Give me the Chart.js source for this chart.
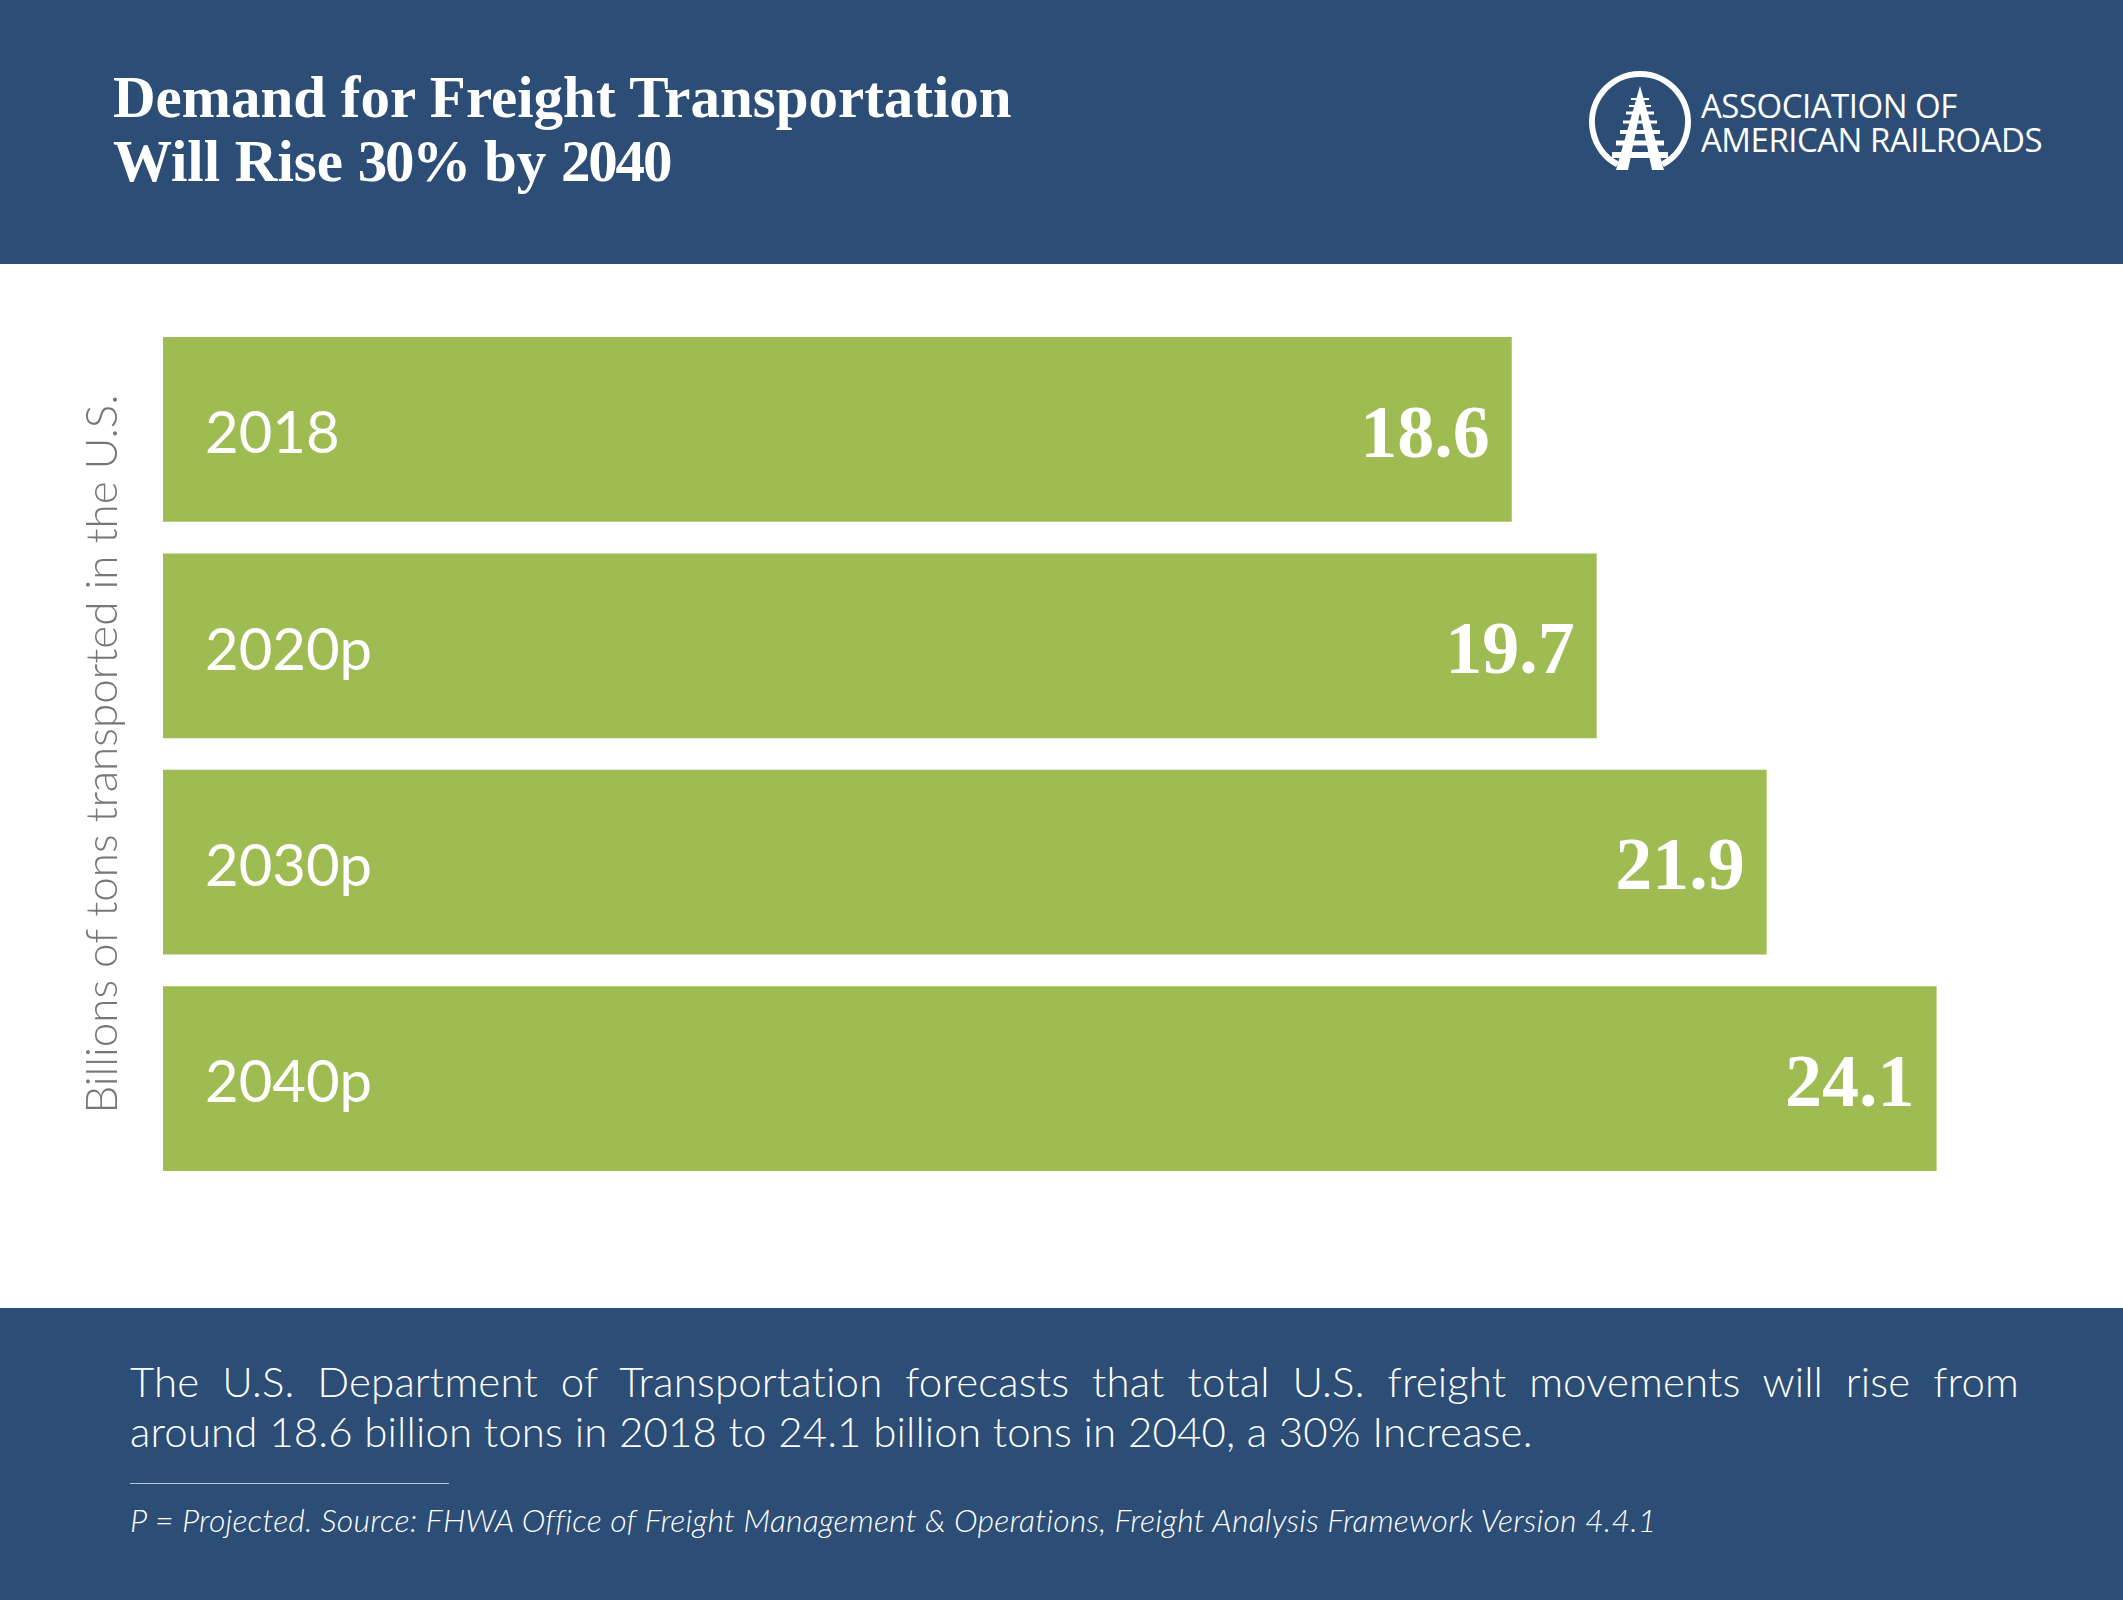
<!DOCTYPE html>
<html>
<head>
<meta charset="utf-8">
<title>Demand for Freight Transportation</title>
<script src="https://cdn.jsdelivr.net/npm/chart.js@4"></script>
<style>
  html, body { margin: 0; padding: 0; background: #fff; }
  #page { position: relative; width: 2123px; height: 1600px; overflow: hidden; font-family: Lato, sans-serif; }
  .band { position: absolute; left: 0; width: 2123px; background: #2c4d75; }
  #header { top: 0; height: 264px; }
  #footer { top: 1308px; height: 292px; }
  #title { position: absolute; left: 113px; top: 65px; color: #fff; font: bold 59px/64px "Liberation Serif", serif; white-space: nowrap; }
  #title .num { letter-spacing: -2.2px; }
  #logoText { position: absolute; left: 1701px; top: 89px; color: #fff; font: 33px/34px "Open Sans", sans-serif; letter-spacing: -0.5px; white-space: nowrap; }
  #note { position: absolute; left: 130px; top: 1356px; width: 1889px; color: #fff; font: 300 42px/50px Lato, sans-serif; letter-spacing: 0.15px; }
  #note .first { text-align: justify; text-align-last: justify; }
  #rule { position: absolute; left: 130px; top: 1483px; width: 319px; height: 1px; background: #b9c6d6; }
  #source { position: absolute; left: 130px; top: 1500px; color: #fff; font: italic 300 32px/40px Lato, sans-serif; letter-spacing: 0.2px; white-space: nowrap; }
  #logo { position: absolute; left: 0; top: 2px; }
  #chartBox { position: absolute; left: 0; top: 264px; }
</style>
</head>
<body>
<div id="page">
  <div id="header" class="band"></div>
  <div id="footer" class="band"></div>
  <div id="title">Demand for Freight Transportation<br>Will Rise <span class="num">30%</span> by <span class="num">2040</span></div>
  <svg id="logo" width="2123" height="262" fill="none" stroke="#fff">
    <path d="M1617.5 162.4 A48 48 0 1 1 1662.5 162.4" stroke-width="6"/>
    <path d="M1640 84 L1616 168 L1628 168 L1640 110 L1652 168 L1664 168 Z" fill="#fff" stroke="none"/>
    <path d="M1612 153 H1668" stroke-width="6"/>
    <path d="M1616 141 H1664" stroke-width="5"/>
    <path d="M1620 130 H1660" stroke-width="4"/>
    <path d="M1623 120 H1657" stroke-width="3"/>
    <path d="M1626 111 H1654" stroke-width="3"/>
    <path d="M1629 104 H1651" stroke-width="2"/>
    <path d="M1631 97 H1649" stroke-width="2"/>
  </svg>
  <div id="logoText">ASSOCIATION OF<br>AMERICAN RAILROADS</div>
  <div id="chartBox"><canvas id="freightChart" width="2123" height="1044"></canvas></div>
  <div id="note">
    <div class="first">The U.S. Department of Transportation forecasts that total U.S. freight movements will rise from</div>
    <div>around 18.6 billion tons in 2018 to 24.1 billion tons in 2040, a 30% Increase.</div>
  </div>
  <div id="rule"></div>
  <div id="source">P = Projected. Source: FHWA Office of Freight Management &amp; Operations, Freight Analysis Framework Version 4.4.1</div>
</div>
<script>
// Chart data
const years = ['2018', '2020p', '2030p', '2040p'];
const billionTons = [18.6, 19.7, 21.9, 24.1];

// Value labels at the end of each bar
const valueLabels = {
  id: 'valueLabels',
  afterDatasetsDraw(chart) {
    const ctx = chart.ctx;
    const bars = chart.getDatasetMeta(0).data;
    ctx.save();
    ctx.fillStyle = '#fff';
    ctx.font = 'bold 74px "Liberation Serif", serif';
    ctx.textAlign = 'right';
    ctx.textBaseline = 'middle';
    bars.forEach((bar, i) => {
      ctx.fillText(billionTons[i].toFixed(1), bar.x - 22, bar.y + 8);
    });
    ctx.restore();
  }
};

new Chart(document.getElementById('freightChart'), {
  type: 'bar',
  data: {
    labels: years,
    datasets: [{
      data: billionTons,
      backgroundColor: '#9ebc52',
      categoryPercentage: 1,
      barPercentage: 0.854
    }]
  },
  options: {
    indexAxis: 'y',
    responsive: false,
    animation: false,
    devicePixelRatio: 1,
    layout: { padding: { top: 57.25, bottom: 121.25, left: 0, right: 1 } },
    plugins: {
      legend: { display: false },
      tooltip: { enabled: false }
    },
    scales: {
      x: { display: false, min: 1.14, max: 26.5 },
      y: {
        // fixed axis box, and no extra room for the tick labels
        afterFit: scale => {
          scale.width = 163;
          scale.paddingTop = 0;
          scale.paddingBottom = 0;
        },
        grid: { display: false, drawTicks: false },
        border: { display: false },
        ticks: {
          mirror: true,
          z: 1,
          padding: 42,
          labelOffset: 5,
          color: '#fff',
          font: { family: 'Lato', size: 58, weight: 400 }
        },
        title: {
          display: true,
          text: 'Billions of tons transported in the U.S.',
          color: '#777777',
          font: { family: 'Lato', size: 44, weight: 300 },
          padding: { top: 76, bottom: 0 }
        }
      }
    }
  },
  plugins: [valueLabels]
});
</script>
</body>
</html>
